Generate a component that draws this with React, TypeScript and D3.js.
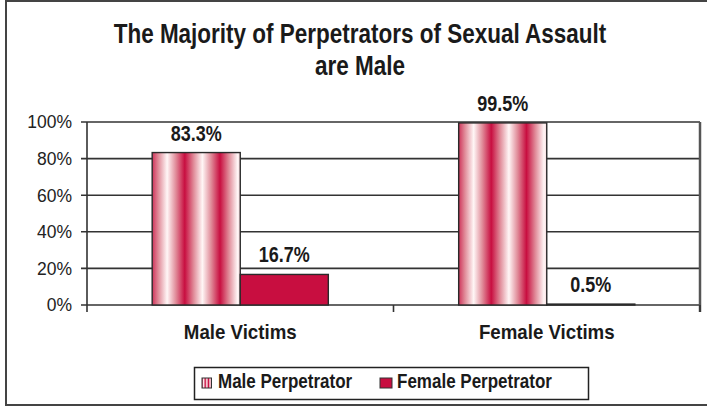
import * as d3 from "d3";

const categories = ["Male Victims", "Female Victims"];
const seriesNames = ["Male Perpetrator", "Female Perpetrator"];
const malePerp = [83.3, 99.5];
const femalePerp = [16.7, 0.5];
const yTicks = [0, 20, 40, 60, 80, 100];
const titleLines = ["The Majority of Perpetrators of Sexual Assault", "are Male"];

const W = 707;
const H = 406;
const margin = { top: 122, right: 7, bottom: 101, left: 87 };
const font = "'Liberation Sans', Arial, sans-serif";
const crimson = "#c80e40";
const stroke = "#333";

const App = () => {
  const x0 = d3
    .scaleBand()
    .domain(categories)
    .range([margin.left, W - margin.right]);

  const x1 = d3
    .scaleBand()
    .domain(seriesNames)
    .range([0, x0.bandwidth()])
    .paddingOuter(0.74);

  const y = d3
    .scaleLinear()
    .domain([0, 100])
    .range([H - margin.bottom, margin.top]);

  const values = [malePerp, femalePerp];
  const fills = ["url(#stripes)", crimson];

  // texte étiré verticalement comme dans l'original
  const stretched = (
    txt: string,
    tx: number,
    ty: number,
    size: number,
    sy: number,
    anchor = "middle",
    key?: string
  ) => (
    <text
      key={key}
      transform={`translate(${tx},${ty}) scale(1,${sy})`}
      textAnchor={anchor}
      fontFamily={font}
      fontWeight="bold"
      fontSize={size}
      fill="#1a1a1a"
    >
      {txt}
    </text>
  );

  const plotLeft = margin.left;
  const plotRight = W - margin.right;
  const baseY = y(0);

  return (
    <div style={{ position: "fixed", left: 0, top: 0 }}>
      <svg width={W} height={H} style={{ display: "block", background: "#fff" }}>
        <defs>
          <linearGradient id="stripes" x1="-0.03" x2="0.37" y1="0" y2="0" spreadMethod="repeat">
            <stop offset="0" stopColor={crimson} />
            <stop offset="0.25" stopColor="#e08a98" />
            <stop offset="0.5" stopColor="#fff6f6" />
            <stop offset="0.75" stopColor="#e08a98" />
            <stop offset="1" stopColor={crimson} />
          </linearGradient>
          <linearGradient id="stripesSmall" x1="0" x2="0.34" y1="0" y2="0" spreadMethod="repeat">
            <stop offset="0" stopColor={crimson} />
            <stop offset="0.5" stopColor="#fff6f6" />
            <stop offset="1" stopColor={crimson} />
          </linearGradient>
        </defs>

        {/* cadre extérieur */}
        <rect x={6} y={1} width={W + 10} height={404} fill="none" stroke="#444" strokeWidth={2} />

        {/* titre */}
        {titleLines.map((t, i) => stretched(t, 360, 43 + i * 32, 22.5, 1.22, "middle", `t${i}`))}

        {/* grille */}
        {yTicks.map((t) => (
          <g key={t}>
            <line x1={plotLeft - 6} x2={plotRight} y1={y(t)} y2={y(t)} stroke={stroke} strokeWidth={1.6} />
            <text
              x={72}
              y={y(t)}
              dy="0.36em"
              textAnchor="end"
              fontFamily={font}
              fontSize={17.5}
              fill="#222"
            >
              {t}%
            </text>
          </g>
        ))}

        {/* axes */}
        <line x1={plotLeft} x2={plotLeft} y1={y(100)} y2={baseY + 7} stroke={stroke} strokeWidth={1.6} />
        <line x1={plotRight} x2={plotRight} y1={y(100)} y2={baseY + 7} stroke="#555" strokeWidth={2.5} />
        {categories.map((c) => (
          <line
            key={c}
            x1={(x0(c) as number) + x0.bandwidth()}
            x2={(x0(c) as number) + x0.bandwidth()}
            y1={baseY}
            y2={baseY + 7}
            stroke={stroke}
            strokeWidth={1.6}
          />
        ))}

        {/* barres */}
        {categories.map((c, ci) => (
          <g key={c} transform={`translate(${x0(c)},0)`}>
            {seriesNames.map((s, si) => {
              const v = values[si][ci];
              const bx = x1(s) as number;
              return (
                <g key={s}>
                  <rect
                    x={bx}
                    y={y(v)}
                    width={x1.bandwidth()}
                    height={baseY - y(v)}
                    fill={fills[si]}
                    stroke="#2a2a2a"
                    strokeWidth={1.4}
                  />
                  {stretched(`${v}%`, bx + x1.bandwidth() / 2, y(v) - 12, 18, 1.18)}
                </g>
              );
            })}
            {stretched(c, (x0(c) as number) * 0 + x0.bandwidth() / 2, 339, 18.7, 1.1)}
          </g>
        ))}

        {/* légende */}
        <rect x={194.5} y={367.5} width={394} height={32} fill="#fff" stroke="#222" strokeWidth={1.5} />
        <rect x={202} y={378} width={9.5} height={10} fill="url(#stripesSmall)" stroke="#333" strokeWidth={1} />
        {stretched(seriesNames[0], 218, 388, 17, 1.17, "start")}
        <rect x={380} y={378} width={12} height={10} fill={crimson} stroke="#333" strokeWidth={1} />
        {stretched(seriesNames[1], 397, 388, 17, 1.17, "start")}
      </svg>
    </div>
  );
};

export default App;
